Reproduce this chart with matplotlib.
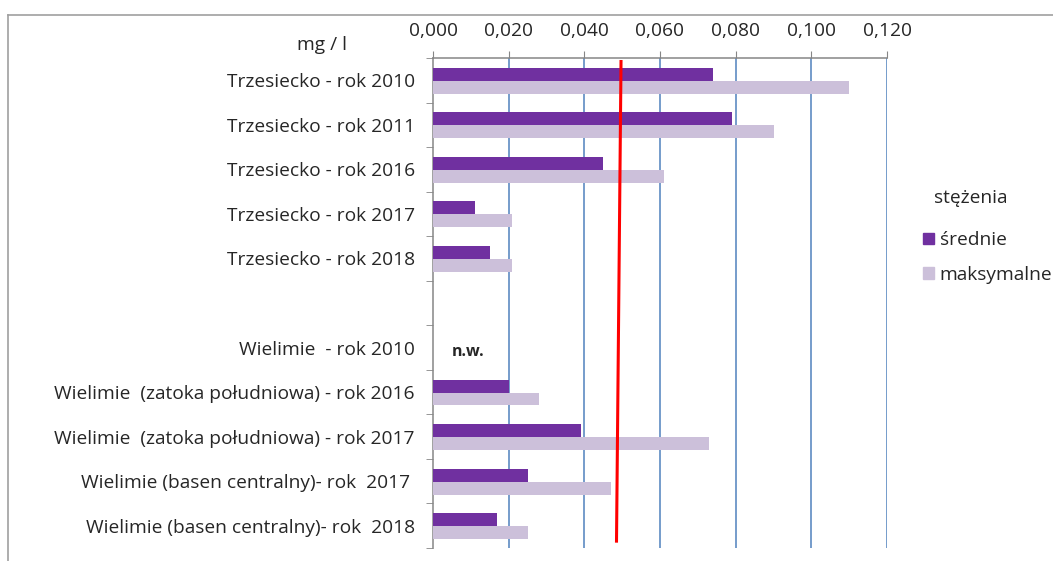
import matplotlib
matplotlib.use("Agg")
import matplotlib.pyplot as plt
from matplotlib.lines import Line2D
from matplotlib.patches import Patch
import numpy as np

plt.rcParams['font.family'] = ['Open Sans', 'DejaVu Sans']

# Sampling sites / years (blank slot separates the two lakes)
categories = [
    "Trzesiecko - rok 2010",
    "Trzesiecko - rok 2011",
    "Trzesiecko - rok 2016",
    "Trzesiecko - rok 2017",
    "Trzesiecko - rok 2018",
    "",
    "Wielimie  - rok 2010",
    "Wielimie  (zatoka południowa) - rok 2016",
    "Wielimie  (zatoka południowa) - rok 2017",
    "Wielimie (basen centralny)- rok  2017 ",
    "Wielimie (basen centralny)- rok  2018",
]
# Concentrations in mg/l (NaN = no data)
srednie = [0.074, 0.079, 0.045, 0.011, 0.015, np.nan, np.nan, 0.020, 0.039, 0.025, 0.017]
maksymalne = [0.110, 0.090, 0.061, 0.021, 0.021, np.nan, np.nan, 0.028, 0.073, 0.047, 0.025]
xticks = [0.0, 0.02, 0.04, 0.06, 0.08, 0.10, 0.12]
xtick_labels = ["0,000", "0,020", "0,040", "0,060", "0,080", "0,100", "0,120"]
# hand-drawn limit line (x at top and bottom)
limit_line_x = [0.0497, 0.0485]
limit_line_y = [-0.455, 10.38]
no_data_label = "n.w."
no_data_index = 6

c_dark = "#7030A0"
c_light = "#CCC0DA"
grid_c = "#4F81BD"
axis_c = "#868686"
txt_c = "#262626"
fs = 13.8

fig = plt.figure(figsize=(10.53, 5.61), dpi=100)
ax = fig.add_axes([433 / 1053, 1 - 548 / 561, (887 - 433) / 1053, (548 - 58) / 561])

y = np.arange(len(categories))
h = 0.29
ax.barh(y - 0.135, srednie, height=h, color=c_dark, label="średnie", zorder=3)
ax.barh(y + 0.155, maksymalne, height=h, color=c_light, label="maksymalne", zorder=3)

ax.set_xlim(0, 0.12)
ax.set_ylim(len(categories) - 0.5, -0.5)

ax.xaxis.tick_top()
ax.set_xticks(xticks)
ax.set_xticklabels(xtick_labels)
ax.tick_params(axis='x', which='major', direction='out', length=5, color=axis_c,
               pad=8, labelsize=fs, labelcolor=txt_c)
for x in xticks[1:]:
    ax.axvline(x, color=grid_c, lw=1.1, zorder=1)

ax.set_yticks(y)
ax.set_yticklabels(categories)
ax.tick_params(axis='y', which='major', length=0, pad=13, labelsize=fs, labelcolor=txt_c)
ax.set_yticks(np.arange(-0.5, len(categories) + 0.5, 1), minor=True)
ax.tick_params(axis='y', which='minor', direction='out', length=5, color=axis_c)

for s in ["right", "bottom"]:
    ax.spines[s].set_visible(False)
for s in ["top", "left"]:
    ax.spines[s].set_color(axis_c)
    ax.spines[s].set_linewidth(1.1)

ax.plot(limit_line_x, limit_line_y, color="#FF0000", lw=2.2, zorder=5, solid_capstyle='butt')

ax.text(0.005, no_data_index + 0.1, no_data_label, fontsize=11.5, fontweight='bold',
        color=txt_c, ha='left', va='center')

fig.text(322 / 1053, 1 - 45 / 561, "mg / l", fontsize=fs, color=txt_c, ha='center', va='center')

# legend
fig.text(971 / 1053, 1 - 198 / 561, "stężenia", fontsize=fs, color=txt_c, ha='center', va='center')
handles = [Patch(color=c_dark, label="średnie"), Patch(color=c_light, label="maksymalne")]
fig.legend(handles=handles, loc='upper left', bbox_to_anchor=(906 / 1053, 1 - 214 / 561),
           frameon=False, fontsize=fs, handlelength=0.55, handleheight=0.55,
           handletextpad=0.3, labelspacing=0.85, labelcolor=txt_c)

# outer frame lines
fig.add_artist(Line2D([8 / 1053, 1], [1 - 14.5 / 561] * 2, color="#A0A0A0", lw=1.2))
fig.add_artist(Line2D([8 / 1053] * 2, [0, 1 - 14.5 / 561], color="#A0A0A0", lw=1.2))

fig.savefig("out.png", dpi=100)
